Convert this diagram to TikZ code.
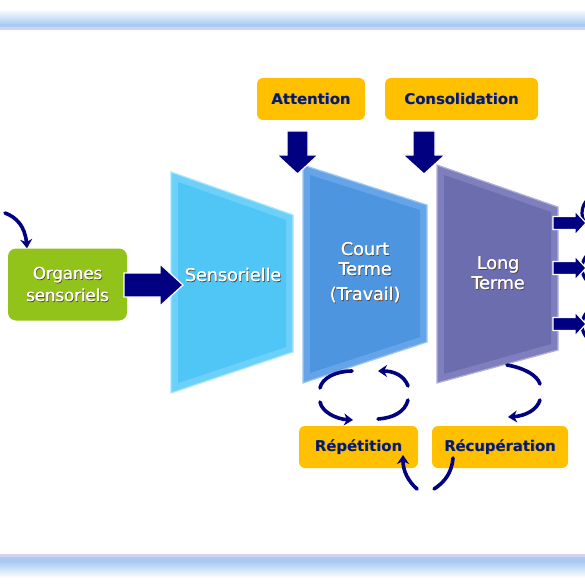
\documentclass[tikz,border=0pt]{standalone}
\usepackage{fontspec}
\setmainfont{DejaVu Sans}
\usetikzlibrary{arrows.meta}
\definecolor{navy}{HTML}{000080}
\definecolor{txtnavy}{HTML}{0A1A5C}
\definecolor{gold}{HTML}{FFC000}
\definecolor{lime}{HTML}{92C31A}
\definecolor{bandblue}{HTML}{A9CAF2}
\definecolor{lav}{HTML}{D4D0EE}
\definecolor{sensmain}{HTML}{4FC6F5}
\definecolor{sensedge}{HTML}{6CD0F8}
\definecolor{sensglow}{HTML}{A6E6FF}
\definecolor{courtmain}{HTML}{4E95E0}
\definecolor{courtedge}{HTML}{66A4EA}
\definecolor{courtglow}{HTML}{9CC8F4}
\definecolor{longmain}{HTML}{6C6DAF}
\definecolor{longedge}{HTML}{7E7FBC}
\definecolor{longglow}{HTML}{B0B0DA}
\definecolor{shadowc}{HTML}{5A4030}
\newcommand{\shtxt}[1]{\leavevmode\rlap{\kern1pt\raisebox{-1pt}{\color{shadowc}#1}}\rlap{\kern0.4pt{#1}}#1}
\newcommand{\shbox}[1]{\leavevmode\rlap{\kern0.6pt\raisebox{-0.6pt}{\color{txtnavy!60}#1}}#1}
\begin{document}
\begin{tikzpicture}[x=1pt,y=-1pt,
  goldbox/.style={fill=gold, rounded corners=6, minimum height=42, inner sep=0,
     font=\bfseries\fontsize{14.8}{16}\selectfont, text=txtnavy},
  traptext/.style={text=white, align=center, font=\fontsize{17.5}{20}\selectfont},
  blockarrow/.style={fill=navy, draw=white, line width=1.2, line join=miter},
  curvearrow/.style={draw=navy, line width=3.6, line cap=round,
     -{Stealth[length=9,width=12]}},
  curvepart/.style={draw=navy, line width=3.6, line cap=round}]
\useasboundingbox (0,0) rectangle (585,585);
% bands
\shade[top color=white, bottom color=bandblue] (0,9) rectangle (585,25);
\fill[bandblue] (0,24.5) rectangle (585,27.5);
\fill[lav] (0,27.5) rectangle (585,30);
\fill[lav] (0,553.5) rectangle (585,557);
\fill[bandblue] (0,557) rectangle (585,562);
\shade[top color=bandblue, bottom color=white] (0,561.5) rectangle (585,578);

% trapezoids
\fill[sensedge, draw=sensglow, line width=1.2] (171,172) -- (293,215) -- (293,352) -- (171,393) -- cycle;
\fill[sensmain] (178,182) -- (286,220) -- (286,347) -- (178,383) -- cycle;
\fill[courtedge, draw=courtglow, line width=1.2] (303,165) -- (427,205) -- (427,342) -- (303,383) -- cycle;
\fill[courtmain] (310,175) -- (420,210) -- (420,337) -- (310,373) -- cycle;
\fill[longedge, draw=longglow, line width=1.2] (437,165) -- (558,207) -- (558,350) -- (437,383) -- cycle;
\fill[longmain] (444,175) -- (551,212) -- (551,344) -- (444,374) -- cycle;

\node[traptext] (sens) at (233,275) {\shtxt{Sensorielle}};
\node[traptext] (court) at (365,273) {\shtxt{Court}\\\shtxt{Terme}\\[5pt]\shtxt{(Travail)}};
\node[traptext] (long) at (498,274) {\shtxt{Long}\\\shtxt{Terme}};

% organes
\node[fill=lime, rounded corners=8, minimum width=119, minimum height=72, inner sep=0,
  text=white, align=center, font=\fontsize{16.5}{22}\selectfont] (org) at (67.5,284.5)
  {\shtxt{Organes}\\\shtxt{sensoriels}};
\coordinate (inA) at (5,213);
\draw[curvearrow] (inA) .. controls (16,217) and (25,226) .. (org.north west -| 27,249);

% block arrow organes -> sensorielle
\path[blockarrow] (124,273) -- (160,273) -- (160,264) -- (183,285) -- (160,306) -- (160,297) -- (124,297) -- cycle;

% gold boxes
\node[goldbox, minimum width=108] (att) at (311,99) {\shbox{Attention}};
\node[goldbox, minimum width=153] (cons) at (461.5,99) {\shbox{Consolidation}};
\node[goldbox, minimum width=119] (rep) at (358.5,447) {\shbox{Répétition}};
\node[goldbox, minimum width=136] (rec) at (500,447) {\shbox{Récupération}};

% down arrows
\path[blockarrow] (287,131) -- (308,131) -- (308,155) -- (318,155) -- (297.5,174) -- (277,155) -- (287,155) -- cycle;
\path[blockarrow] (413,131) -- (435,131) -- (435,155) -- (445,155) -- (424,174) -- (403,155) -- (413,155) -- cycle;

% right arrows (clipped)
\begin{scope}
\clip (0,0) rectangle (585,585);
\foreach \yy in {213,268,325}{
  \draw[navy, line width=3.2] (601,\yy) circle[radius=19];
}
\foreach \yy in {223,268,324}{
  \path[blockarrow] (553,\yy-6.5) -- (575,\yy-6.5) -- (575,\yy-12) -- (586,\yy) -- (575,\yy+12) -- (575,\yy+6.5) -- (553,\yy+6.5) -- cycle;
}
\end{scope}

% repetition cycle under court terme
\draw[curvearrow] (408,386) .. controls (404,375) and (393,371) .. (378,371);
\draw[curvepart] (352,371) .. controls (336,371) and (322,378) .. (320,388);
\draw[curvearrow] (320,402) .. controls (322,412) and (336,419) .. (353,420);
\draw[curvepart] (408,400) .. controls (405,412) and (393,418) .. (378,419);

% recuperation arc under long terme
\draw[curvepart] (507,365) .. controls (524,368) and (537,375) .. (540,384);
\draw[curvearrow] (540,400) .. controls (537,410) and (525,416) .. (508,417);

% bottom arrows between boxes
\draw[curvepart] (453,458) .. controls (452,472) and (445,482) .. (434,489);
\draw[curvearrow] (417,489) .. controls (408,481) and (403,471) .. (403,455);
\end{tikzpicture}
\end{document}
